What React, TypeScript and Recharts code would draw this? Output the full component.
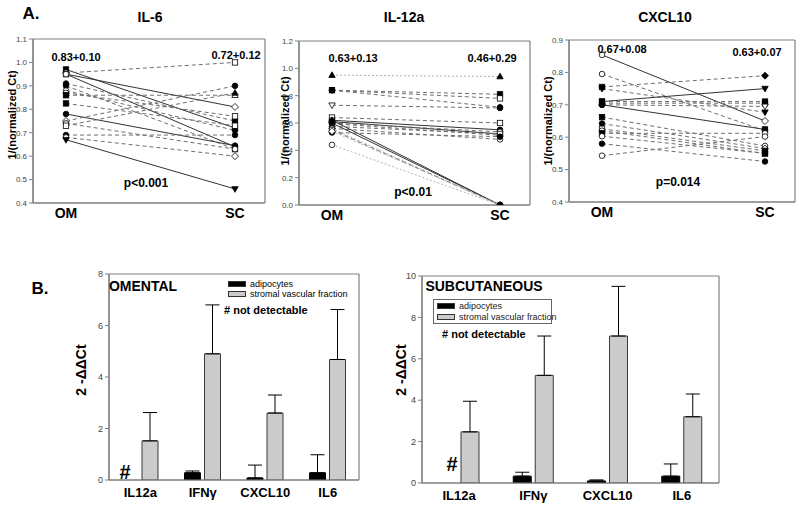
import React from "react";
import {
  LineChart,
  Line,
  BarChart,
  Bar,
  ErrorBar,
  XAxis,
  YAxis,
  CartesianGrid,
} from "recharts";

const FONT = "Arial, 'Liberation Sans', Helvetica, sans-serif";
const FRAME = "#808080";

// ---- panel A: paired OM / SC values per patient ----
const il6OM = [0.97, 0.955, 0.95, 0.95, 0.91, 0.9, 0.88, 0.87, 0.86, 0.825, 0.78, 0.75, 0.74, 0.73, 0.69, 0.68, 0.67];
const il6SC = [0.72, 1.0, 0.81, 0.64, 0.75, 0.63, 0.71, 0.77, 0.86, 0.73, 0.645, 0.9, 0.63, 0.87, 0.69, 0.6, 0.46];
const il6OMMark = ["fs", "od", "os", "oc", "fc", "fc", "oc", "oc", "fs", "fs", "fc", "od", "oc", "os", "fc", "oc", "fv"];
const il6SCMark = ["os", "os", "od", "oc", "fs", "os", "fc", "os", "ot", "os", "fc", "fc", "oc", "ft", "fc", "od", "fv"];
const il6Style = ["s", "d", "s", "s", "d", "d", "d", "d", "d", "d", "s", "d", "d", "d", "d", "d", "s"];

const il12OM = [0.95, 0.84, 0.84, 0.84, 0.73, 0.64, 0.62, 0.61, 0.6, 0.595, 0.575, 0.56, 0.53, 0.62, 0.6, 0.56, 0.55, 0.54, 0.44];
const il12SC = [0.94, 0.81, 0.78, 0.715, 0.71, 0.6, 0.55, 0.52, 0.535, 0.51, 0.52, 0.48, 0.5, 0, 0, 0, 0, 0, 0];
const il12OMMark = ["ft", "fc", "fs", "fc", "ov", "os", "oc", "fs", "fc", "fv", "oc", "oc", "fc", "ft", "fc", "oc", "os", "od", "oc"];
const il12SCMark = ["ft", "fs", "os", "fc", "fc", "os", "fc", "fs", "oc", "fc", "os", "oc", "fc", "fc", "fc", "fc", "fc", "fc", "fc"];
const il12Style = ["l", "d", "d", "d", "d", "d", "s", "s", "d", "d", "d", "d", "d", "s", "s", "l", "d", "l", "l"];

const cxOM = [0.854, 0.795, 0.755, 0.75, 0.71, 0.71, 0.705, 0.7, 0.7, 0.662, 0.642, 0.626, 0.62, 0.612, 0.603, 0.58, 0.543];
const cxSC = [0.65, 0.62, 0.79, 0.677, 0.75, 0.71, 0.705, 0.695, 0.624, 0.573, 0.565, 0.558, 0.55, 0.612, 0.55, 0.525, 0.602];
const cxOMMark = ["oc", "oc", "fs", "fv", "fs", "fs", "ft", "fc", "fc", "fs", "fc", "os", "oc", "fs", "oc", "fc", "oc"];
const cxSCMark = ["od", "oc", "fd", "fv", "fv", "fs", "fs", "ov", "fs", "oc", "od", "fs", "fs", "oc", "fs", "fc", "oc"];
const cxStyle = ["s", "d", "d", "d", "s", "d", "d", "d", "s", "d", "d", "d", "d", "d", "d", "d", "d"];

// ---- panel B: bar values ----
const genes = ["IL12a", "IFNγ", "CXCL10", "IL6"];
const omAdip = [0, 0.28, 0.08, 0.28];
const omAdipErr = [null, 0.07, 0.5, 0.7];
const omSvf = [1.52, 4.9, 2.6, 4.68];
const omSvfErr = [1.1, 1.9, 0.7, 1.94];
const scAdip = [0, 0.33, 0.1, 0.33];
const scAdipErr = [null, 0.19, 0.05, 0.59];
const scSvf = [2.47, 5.2, 7.1, 3.2];
const scSvfErr = [1.48, 1.9, 2.4, 1.1];

const lineLook: Record<string, { stroke: string; dash?: string }> = {
  s: { stroke: "#333" },
  d: { stroke: "#6e6e6e", dash: "4 3" },
  l: { stroke: "#b5b5b5", dash: "2 2" },
};

function Mark({ cx, cy, code }: { cx: number; cy: number; code: string }) {
  const fill = code[0] === "f" ? "#000" : "#fff";
  const common = { fill, stroke: "#000", strokeWidth: 0.8 };
  switch (code[1]) {
    case "s":
      return <rect x={cx - 2.7} y={cy - 2.7} width={5.4} height={5.4} {...common} />;
    case "t":
      return <polygon points={`${cx},${cy - 3.4} ${cx + 3.2},${cy + 2.3} ${cx - 3.2},${cy + 2.3}`} {...common} />;
    case "v":
      return <polygon points={`${cx},${cy + 3.4} ${cx + 3.2},${cy - 2.3} ${cx - 3.2},${cy - 2.3}`} {...common} />;
    case "d":
      return <polygon points={`${cx},${cy - 3.5} ${cx + 3.5},${cy} ${cx},${cy + 3.5} ${cx - 3.5},${cy}`} {...common} />;
    default:
      return <circle cx={cx} cy={cy} r={2.8} {...common} />;
  }
}

function Txt({ x, y, size = 11, bold = true, rotate = false, color = "#000", children }: any) {
  return (
    <div
      style={{
        position: "absolute",
        left: x,
        top: y,
        transform: `translate(-50%, -50%)${rotate ? " rotate(-90deg)" : ""}`,
        fontSize: size,
        fontWeight: bold ? "bold" : "normal",
        color,
        whiteSpace: "nowrap",
        lineHeight: 1,
      }}
    >
      {children}
    </div>
  );
}

const frameGrid = (
  <CartesianGrid
    stroke={FRAME}
    strokeWidth={1.2}
    horizontalCoordinatesGenerator={({ offset }: any) => [offset.top, offset.top + offset.height]}
    verticalCoordinatesGenerator={({ offset }: any) => [offset.left, offset.left + offset.width]}
  />
);

function PairChart({ x0, y0, x1, y1, domain, ticks, om, sc, omMark, scMark, styles }: any) {
  const w = x1 - x0;
  const h = y1 - y0;
  const rows: any[] = [{ g: "OM" }, { g: "SC" }];
  om.forEach((v: number, i: number) => {
    rows[0]["p" + i] = v;
    rows[1]["p" + i] = sc[i];
  });
  return (
    <div style={{ position: "absolute", left: x0 - 35, top: y0 - 25 }}>
      <LineChart width={w + 40} height={h + 50} data={rows} margin={{ top: 25, right: 5, bottom: 3, left: 15 }}>
        {frameGrid}
        <XAxis
          dataKey="g"
          height={22}
          padding={{ left: 33, right: 30 }}
          tickLine={false}
          tickSize={3}
          axisLine={{ stroke: FRAME, strokeWidth: 1.2 }}
          interval={0}
          tick={{ fontSize: 14, fontWeight: "bold", fill: "#000", fontFamily: FONT }}
        />
        <YAxis
          type="number"
          width={20}
          domain={domain}
          ticks={ticks}
          allowDataOverflow
          tickSize={4}
          tickLine={{ stroke: FRAME }}
          axisLine={{ stroke: FRAME, strokeWidth: 1.2 }}
          tick={{ fontSize: 8, fill: "#444", fontFamily: FONT }}
          tickFormatter={(v: number) => v.toFixed(1)}
        />
        {om.map((_: number, i: number) => (
          <Line
            key={i}
            dataKey={"p" + i}
            type="linear"
            stroke={lineLook[styles[i]].stroke}
            strokeDasharray={lineLook[styles[i]].dash}
            strokeWidth={1}
            isAnimationActive={false}
            activeDot={false}
            dot={(p: any) => (
              <Mark key={`m${i}-${p.index}`} cx={p.cx} cy={p.cy} code={p.index === 0 ? omMark[i] : scMark[i]} />
            )}
          />
        ))}
      </LineChart>
    </div>
  );
}

function BarPanel({ x0, y0, x1, y1, max, ticks, adip, adipErr, svf, svfErr, barSize, gap }: any) {
  const w = x1 - x0;
  const h = y1 - y0;
  const rows = genes.map((g, i) => ({
    gene: g,
    adip: adip[i],
    adipErr: adipErr[i] == null ? null : [0, adipErr[i]],
    svf: svf[i],
    svfErr: [0, svfErr[i]],
  }));
  return (
    <div style={{ position: "absolute", left: x0 - 35, top: y0 - 25 }}>
      <BarChart
        width={w + 40}
        height={h + 50}
        data={rows}
        margin={{ top: 25, right: 5, bottom: 3, left: 15 }}
        barSize={barSize}
        barGap={gap}
      >
        {frameGrid}
        <XAxis
          dataKey="gene"
          height={22}
          tickLine={false}
          axisLine={{ stroke: FRAME, strokeWidth: 1.2 }}
          interval={0}
          tick={{ fontSize: 13, fontWeight: "bold", fill: "#000", fontFamily: FONT }}
        />
        <YAxis
          type="number"
          width={20}
          domain={[0, max]}
          ticks={ticks}
          allowDataOverflow
          tickSize={4}
          tickLine={{ stroke: FRAME }}
          axisLine={{ stroke: FRAME, strokeWidth: 1.2 }}
          tick={{ fontSize: 9, fill: "#444", fontFamily: FONT }}
        />
        <Bar dataKey="adip" fill="#000" stroke="#000" isAnimationActive={false}>
          <ErrorBar dataKey="adipErr" width={7} stroke="#000" strokeWidth={1} />
        </Bar>
        <Bar dataKey="svf" fill="#cbcbcb" stroke="#3a3a3a" strokeWidth={1} isAnimationActive={false}>
          <ErrorBar dataKey="svfErr" width={7} stroke="#000" strokeWidth={1} />
        </Bar>
      </BarChart>
    </div>
  );
}

function Swatch({ x, y, w, h, fill }: any) {
  return (
    <div style={{ position: "absolute", left: x, top: y, width: w, height: h, background: fill, border: "1px solid #333", boxSizing: "border-box" }} />
  );
}

export default function App() {
  return (
    <div
      style={{
        position: "absolute",
        left: 0,
        top: 0,
        width: 800,
        height: 505,
        background: "#fff",
        fontFamily: FONT,
        overflow: "hidden",
      }}
    >
      <PairChart x0={33} y0={39} x1={265} y1={203} domain={[0.4, 1.1]} ticks={[0.4, 0.5, 0.6, 0.7, 0.8, 0.9, 1.0, 1.1]}
        om={il6OM} sc={il6SC} omMark={il6OMMark} scMark={il6SCMark} styles={il6Style} />
      <PairChart x0={299} y0={41} x1={530} y1={205} domain={[0, 1.2]} ticks={[0, 0.2, 0.4, 0.6, 0.8, 1.0, 1.2]}
        om={il12OM} sc={il12SC} omMark={il12OMMark} scMark={il12SCMark} styles={il12Style} />
      <PairChart x0={569} y0={40} x1={795} y1={202} domain={[0.4, 0.9]} ticks={[0.4, 0.5, 0.6, 0.7, 0.8, 0.9]}
        om={cxOM} sc={cxSC} omMark={cxOMMark} scMark={cxSCMark} styles={cxStyle} />

      <BarPanel x0={109} y0={274} x1={359} y1={480} max={8} ticks={[0, 2, 4, 6, 8]}
        adip={omAdip} adipErr={omAdipErr} svf={omSvf} svfErr={omSvfErr} barSize={16} gap={4} />
      <BarPanel x0={422} y0={276} x1={719} y1={483} max={10} ticks={[0, 2, 4, 6, 8, 10]}
        adip={scAdip} adipErr={scAdipErr} svf={scSvf} svfErr={scSvfErr} barSize={18} gap={4} />

      {/* panel A text */}
      <Txt x={31} y={13} size={17}>A.</Txt>
      <Txt x={150} y={17} size={14}>IL-6</Txt>
      <Txt x={404} y={17} size={14}>IL-12a</Txt>
      <Txt x={665} y={17} size={14}>CXCL10</Txt>
      <Txt x={12} y={115} size={11} rotate>1/(normalized Ct)</Txt>
      <Txt x={285} y={121} size={11} rotate>1/(normalized Ct)</Txt>
      <Txt x={548} y={121} size={11} rotate>1/(normalized Ct)</Txt>
      <Txt x={76} y={57} size={11}>0.83+0.10</Txt>
      <Txt x={236} y={55} size={11}>0.72+0.12</Txt>
      <Txt x={146} y={183} size={12}>p&lt;0.001</Txt>
      <Txt x={353} y={58} size={11}>0.63+0.13</Txt>
      <Txt x={492} y={58} size={11}>0.46+0.29</Txt>
      <Txt x={413} y={192} size={12}>p&lt;0.01</Txt>
      <Txt x={622} y={49} size={11}>0.67+0.08</Txt>
      <Txt x={757} y={52} size={11}>0.63+0.07</Txt>
      <Txt x={678} y={182} size={12}>p=0.014</Txt>

      {/* panel B text */}
      <Txt x={40} y={288} size={17}>B.</Txt>
      <Txt x={81} y={370} size={14} rotate>2 -ΔΔCt</Txt>
      <Txt x={401} y={370} size={14} rotate>2 -ΔΔCt</Txt>
      <Txt x={143} y={286} size={14}>OMENTAL</Txt>
      <Txt x={484} y={286} size={14}>SUBCUTANEOUS</Txt>
      <Txt x={125} y={472} size={20}>#</Txt>
      <Txt x={452} y={464} size={20}>#</Txt>

      {/* omental legend */}
      <Swatch x={228} y={281} w={18} h={6} fill="#000" />
      <Swatch x={228} y={291} w={18} h={6} fill="#cbcbcb" />
      <div style={{ position: "absolute", left: 250, top: 279, fontSize: 9, lineHeight: "10px" }}>
        adipocytes
        <br />
        stromal vascular fraction
      </div>
      <div style={{ position: "absolute", left: 224, top: 304, fontSize: 11, fontWeight: "bold" }}>
        # not detectable
      </div>

      {/* subcutaneous legend */}
      <div style={{ position: "absolute", left: 433, top: 299, width: 119, height: 25, border: "1px solid #666", boxSizing: "border-box" }} />
      <Swatch x={437} y={303} w={18} h={6} fill="#000" />
      <Swatch x={437} y={314} w={18} h={6} fill="#cbcbcb" />
      <div style={{ position: "absolute", left: 459, top: 301, fontSize: 9, lineHeight: "11px", color: "#222" }}>
        adipocytes
        <br />
        stromal vascular fraction
      </div>
      <div style={{ position: "absolute", left: 442, top: 328, fontSize: 11, fontWeight: "bold" }}>
        # not detectable
      </div>
    </div>
  );
}
